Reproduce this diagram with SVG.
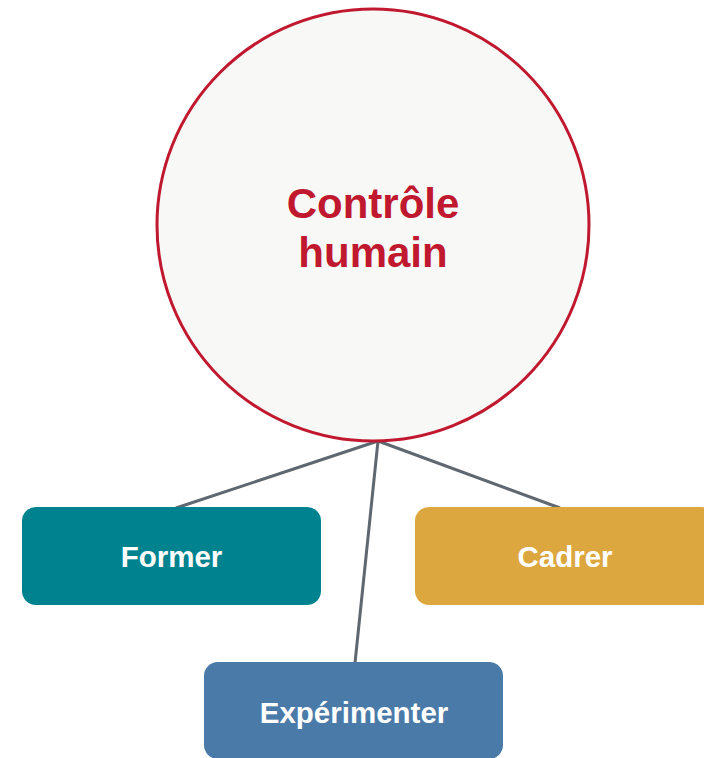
<svg xmlns="http://www.w3.org/2000/svg" width="704" height="758" viewBox="0 0 704 758">
<style>
.lbl{font-family:"Liberation Sans",Arial,sans-serif;font-weight:bold;fill:#ffffff;font-size:29.5px;text-anchor:middle}
.title{font-family:"Liberation Sans",Arial,sans-serif;font-weight:bold;fill:#C0192F;font-size:42px;text-anchor:middle}
.conn{stroke:#5F6770;stroke-width:3;fill:none}
</style>
<rect width="704" height="758" fill="#ffffff"/>
<g id="connectors">
<line class="conn" x1="378" y1="441" x2="176" y2="508"/>
<line class="conn" x1="378" y1="441" x2="560" y2="508"/>
<line class="conn" x1="378" y1="441" x2="355" y2="663"/>
</g>
<g id="node-controle">
<circle cx="373" cy="225" r="216" fill="#F8F8F6" stroke="#C0192F" stroke-width="3"/>
<text class="title" x="373" y="218">Contrôle</text>
<text class="title" x="373" y="267">humain</text>
</g>
<g id="node-former">
<rect x="22" y="507" width="299" height="98" rx="14" fill="#00838F"/>
<text class="lbl" x="171.5" y="567">Former</text>
</g>
<g id="node-cadrer">
<rect x="415" y="507" width="300" height="98" rx="14" fill="#DDA73F"/>
<text class="lbl" x="565" y="567">Cadrer</text>
</g>
<g id="node-experimenter">
<rect x="204" y="662" width="299" height="97" rx="14" fill="#4A7AA8"/>
<text class="lbl" x="354" y="723">Expérimenter</text>
</g>
</svg>
